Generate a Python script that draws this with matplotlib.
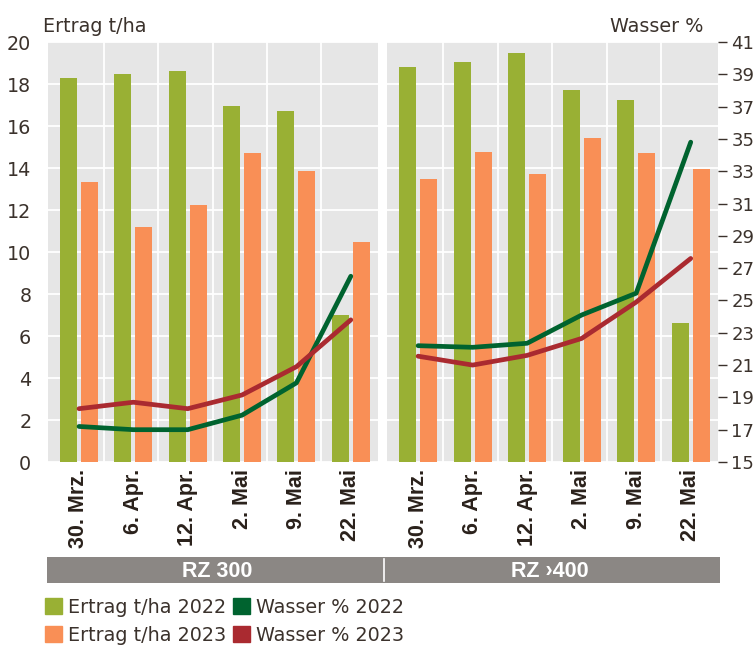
import numpy as np
import matplotlib
matplotlib.use('Agg')
import matplotlib.pyplot as plt
from matplotlib.patches import Patch

# Daten
dates = ['30. Mrz.', '6. Apr.', '12. Apr.', '2. Mai', '9. Mai', '22. Mai']
groups = ['RZ 300', 'RZ \u203a400']

ertrag_2022_rz300 = [18.3, 18.5, 18.6, 16.95, 16.7, 7.0]
ertrag_2023_rz300 = [13.35, 11.2, 12.25, 14.7, 13.85, 10.5]
wasser_2022_rz300 = [17.2, 17.0, 17.0, 17.9, 19.9, 26.5]
wasser_2023_rz300 = [18.3, 18.7, 18.3, 19.15, 20.9, 23.8]

ertrag_2022_rz400 = [18.8, 19.05, 19.5, 17.7, 17.25, 6.6]
ertrag_2023_rz400 = [13.5, 14.75, 13.7, 15.45, 14.7, 13.95]
wasser_2022_rz400 = [22.2, 22.1, 22.35, 24.1, 25.45, 34.8]
wasser_2023_rz400 = [21.55, 21.0, 21.6, 22.65, 24.9, 27.6]

c_g22 = '#99b034'
c_o23 = '#f98f56'
c_w22 = '#00632f'
c_w23 = '#aa2a30'
c_bg = '#e6e6e6'
c_txt = '#3b322c'
c_band = '#8b8784'

W, H = 754, 647
fig = plt.figure(figsize=(W / 100, H / 100), dpi=100)

reg = 'DejaVu Sans'
bold = 'Liberation Sans'


def fx(px):
    return px / W


def fy(py):
    return 1 - py / H


def panel(x0, x1, e22, e23, w22, w23, left_ticks):
    ax = fig.add_axes([fx(x0), fy(462), fx(x1 - x0), (462 - 42) / H])
    ax.set_facecolor(c_bg)
    x = np.arange(len(dates))
    bw = 0.3125
    off = 0.193
    ax.bar(x - off, e22, bw, color=c_g22, zorder=2)
    ax.bar(x + off, e23, bw, color=c_o23, zorder=2)
    ax.set_ylim(0, 20)
    ax.set_xlim(-0.57, 5.5)
    ax.set_yticks(np.arange(0, 21, 2))
    ax.set_xticks(x)
    ax.set_xticks(np.arange(5) + 0.46, minor=True)
    ax.set_xticklabels(dates, rotation=90, fontsize=15.5, fontweight='bold',
                       family=bold, color='#2a211b')
    ax.tick_params(axis='x', which='both', length=0, pad=5)
    ax.grid(True, which='major', axis='y', color='white', lw=1.3, zorder=1)
    ax.grid(True, which='minor', axis='x', color='white', lw=1.3, zorder=1)
    ax.set_axisbelow(True)
    for s in ax.spines.values():
        s.set_visible(False)
    if left_ticks:
        ax.tick_params(axis='y', length=0, pad=12, labelsize=13.8,
                       labelcolor=c_txt)
        for t in ax.get_yticklabels():
            t.set_family(reg)
    else:
        ax.tick_params(axis='y', length=0, labelleft=False)

    ax2 = ax.twinx()
    ax2.plot(x, w22, color=c_w22, lw=3.4, solid_capstyle='round',
             solid_joinstyle='round', zorder=3)
    ax2.plot(x, w23, color=c_w23, lw=3.4, solid_capstyle='round',
             solid_joinstyle='round', zorder=3)
    ax2.set_ylim(15, 41)
    ax2.set_yticks(np.arange(15, 42, 2))
    for s in ax2.spines.values():
        s.set_visible(False)
    if left_ticks:
        ax2.tick_params(axis='y', right=False, labelright=False)
    else:
        ax2.tick_params(axis='y', length=6.5, width=1, color=c_txt, pad=3,
                        labelsize=13, labelcolor=c_txt)
        for t in ax2.get_yticklabels():
            t.set_family(reg)
    return ax


panel(48, 378, ertrag_2022_rz300, ertrag_2023_rz300,
      wasser_2022_rz300, wasser_2023_rz300, True)
panel(387, 718, ertrag_2022_rz400, ertrag_2023_rz400,
      wasser_2022_rz400, wasser_2023_rz400, False)

# Achsentitel
fig.text(fx(43), fy(32), 'Ertrag t/ha', fontsize=13.8, family=reg,
         color=c_txt, ha='left', va='baseline')
fig.text(fx(703), fy(32), 'Wasser %', fontsize=13.8, family=reg,
         color=c_txt, ha='right', va='baseline')

# Band mit Gruppennamen
band = fig.add_axes([fx(47), fy(583), fx(720 - 47), 26 / H])
band.set_facecolor(c_band)
band.set_xlim(47, 720)
band.set_ylim(0, 1)
band.set_xticks([])
band.set_yticks([])
for s in band.spines.values():
    s.set_visible(False)
band.axvline(384, ymin=0.08, ymax=0.92, color='white', lw=1.2)
for cx, g in zip([217, 550], groups):
    band.text(cx, 0.45, g, color='white', fontsize=15.5, fontweight='bold',
              family=bold, ha='center', va='center')

# Legende
handles = [Patch(color=c_g22), Patch(color=c_o23),
           Patch(color=c_w22), Patch(color=c_w23)]
labels = ['Ertrag t/ha 2022', 'Ertrag t/ha 2023',
          'Wasser % 2022', 'Wasser % 2023']
leg = fig.legend(handles, labels, ncols=2, loc='upper left',
                 bbox_to_anchor=(fx(45), fy(598)), frameon=False,
                 prop={'family': reg, 'size': 13.8},
                 handlelength=0.9, handleheight=0.9, handletextpad=0.3,
                 columnspacing=0.35, labelspacing=0.45, borderpad=0,
                 borderaxespad=0)
for t in leg.get_texts():
    t.set_color(c_txt)

fig.savefig('out.png', dpi=100)
